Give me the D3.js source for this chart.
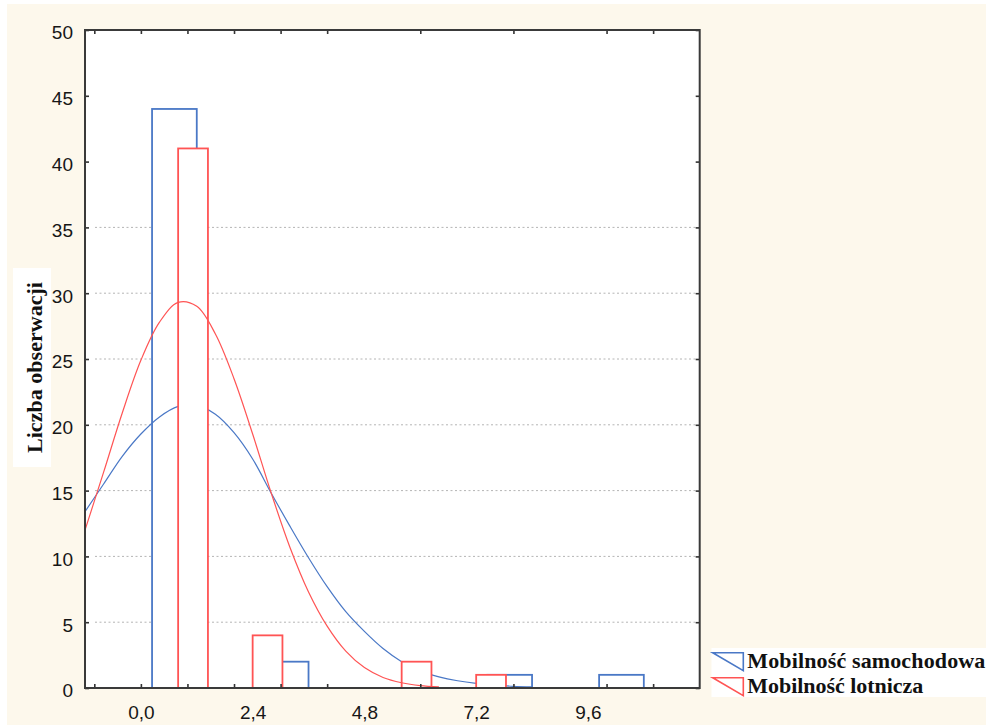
<!DOCTYPE html>
<html>
<head>
<meta charset="utf-8">
<script src="https://cdn.jsdelivr.net/npm/d3@7"></script>
<style>
  body { margin: 0; background: #ffffff; }
  svg { display: block; }
</style>
</head>
<body>
<div id="chart"></div>
<script>
// histogram bins (bin centres) and counts
const blueCenters = [0.72, 3.12, 7.92, 10.32];
const blueCounts = [44, 2, 1, 1];
const redCenters = [1.12, 2.72, 5.92, 7.52];
const redCounts = [41, 4, 2, 1];

// fitted curves at these x positions
const curveX = [-1.2, -0.8, -0.4, 0, 0.4, 0.8, 1.2, 1.6, 2.0, 2.4, 2.8, 3.2, 3.6, 4.0, 4.4, 4.8, 5.2, 5.6, 6.0, 6.4, 6.8, 7.2, 7.6, 8.0, 8.4];
const blueCurveY = [13.4, 15.5, 17.6, 19.3, 20.6, 21.4, 21.5, 20.8, 19.4, 17.4, 14.8, 12.3, 9.9, 7.7, 5.8, 4.3, 3.0, 2.0, 1.3, 0.85, 0.55, 0.35, 0.22, 0.13, 0.08];
const redCurveY = [12.0, 16.4, 20.9, 24.9, 27.8, 29.3, 29.0, 26.9, 23.5, 19.3, 14.8, 10.7, 7.3, 4.7, 2.8, 1.55, 0.8, 0.4, 0.18, 0.08];

const yTicks = [0, 5, 10, 15, 20, 25, 30, 35, 40, 45, 50];
const gridValues = [5, 10, 15, 20, 25, 30, 35];
const xTickMarks = [-1, 0, 1, 2, 3, 4, 6, 8, 10, 11];
const xTickLabels = [0, 2.4, 4.8, 7.2, 9.6];
const seriesNames = ["Mobilność samochodowa", "Mobilność lotnicza"];
const yTitle = "Liczba obserwacji";

const blueColor = "#4a78c6";
const redColor = "#ff5454";
const blueBarWidth = 0.96, redBarWidth = 0.64;

const W = 986, H = 725;
const pL = 85, pR = 699.7, pT = 30, pB = 688;

const svg = d3.select("#chart").append("svg")
  .attr("width", W).attr("height", H);

svg.append("rect").attr("x", 7).attr("y", 4)
  .attr("width", W - 7).attr("height", H - 4).attr("fill", "#fdf8ec");

const x = d3.scaleLinear().domain([-1.2, 12]).range([pL, pR]);
const y = d3.scaleLinear().domain([0, 50]).range([pB, pT]);

svg.append("defs").append("clipPath").attr("id", "plotclip")
  .append("rect").attr("x", pL).attr("y", pT)
  .attr("width", pR - pL).attr("height", pB - pT);

svg.append("rect").attr("x", pL).attr("y", pT)
  .attr("width", pR - pL).attr("height", pB - pT)
  .attr("fill", "#ffffff");

// grid
svg.append("g").selectAll("line").data(gridValues).enter().append("line")
  .attr("x1", pL + 10).attr("x2", pR - 4)
  .attr("y1", d => y(d)).attr("y2", d => y(d))
  .attr("stroke", "#b4b4b4").attr("stroke-width", 1)
  .attr("stroke-dasharray", "2,2.5");

const plot = svg.append("g").attr("clip-path", "url(#plotclip)");

const line = d3.line().x(d => x(d[0])).y(d => y(d[1])).curve(d3.curveCatmullRom.alpha(0.5));

// blue bars, blue curve, red bars, red curve
plot.append("g").selectAll("rect")
  .data(d3.zip(blueCenters, blueCounts)).enter().append("rect")
  .attr("x", d => x(d[0] - blueBarWidth / 2))
  .attr("width", x(blueBarWidth) - x(0))
  .attr("y", d => y(d[1]))
  .attr("height", d => y(0) - y(d[1]))
  .attr("fill", "#ffffff").attr("stroke", blueColor).attr("stroke-width", 1.8);

plot.append("path").datum(d3.zip(curveX, blueCurveY))
  .attr("d", line).attr("fill", "none")
  .attr("stroke", blueColor).attr("stroke-width", 1.2);

plot.append("g").selectAll("rect")
  .data(d3.zip(redCenters, redCounts)).enter().append("rect")
  .attr("x", d => x(d[0] - redBarWidth / 2))
  .attr("width", x(redBarWidth) - x(0))
  .attr("y", d => y(d[1]))
  .attr("height", d => y(0) - y(d[1]))
  .attr("fill", "#ffffff").attr("stroke", redColor).attr("stroke-width", 1.8);

plot.append("path").datum(d3.zip(curveX, redCurveY))
  .attr("d", line).attr("fill", "none")
  .attr("stroke", redColor).attr("stroke-width", 1.2);

// axes: inward tick marks on all sides
const tickColor = "#333333";
function styleTicks(g) {
  g.select(".domain").remove();
  g.selectAll(".tick line").attr("stroke", tickColor).attr("stroke-width", 1.6);
}
svg.append("g").attr("transform", `translate(0,${pB})`)
  .call(d3.axisBottom(x).tickValues(xTickMarks).tickSize(-4).tickFormat(""))
  .call(styleTicks);
svg.append("g").attr("transform", `translate(0,${pT})`)
  .call(d3.axisTop(x).tickValues(xTickMarks).tickSize(-4).tickFormat(""))
  .call(styleTicks);
svg.append("g").attr("transform", `translate(${pL},0)`)
  .call(d3.axisLeft(y).tickValues(yTicks).tickSize(-4).tickFormat(""))
  .call(styleTicks);
svg.append("g").attr("transform", `translate(${pR},0)`)
  .call(d3.axisRight(y).tickValues(yTicks).tickSize(-4).tickFormat(""))
  .call(styleTicks);

// tick labels
const labelFont = "'Liberation Sans', Arial, sans-serif";
const xLab = svg.append("g").attr("transform", `translate(0,${pB})`)
  .call(d3.axisBottom(x).tickValues(xTickLabels).tickSize(0).tickPadding(17.5)
    .tickFormat(d => d3.format(".1f")(d).replace(".", ",")));
xLab.select(".domain").remove();
xLab.selectAll("text").attr("font-family", labelFont).attr("font-size", 19).attr("fill", "#161616");

const yLab = svg.append("g").attr("transform", `translate(${pL},0)`)
  .call(d3.axisLeft(y).tickValues(yTicks).tickSize(0).tickPadding(12));
yLab.select(".domain").remove();
yLab.selectAll("text").attr("font-family", labelFont).attr("font-size", 19)
  .attr("dy", "0.47em").attr("fill", "#161616");

// frame
svg.append("rect").attr("x", pL).attr("y", pT)
  .attr("width", pR - pL).attr("height", pB - pT)
  .attr("fill", "none").attr("stroke", "#3a3a3a").attr("stroke-width", 2);

// y title
const serif = "'Liberation Serif', 'Times New Roman', serif";
svg.append("rect").attr("x", 13).attr("y", 268).attr("width", 38).attr("height", 199)
  .attr("fill", "#ffffff");
svg.append("text")
  .attr("transform", "translate(41.5,367.5) rotate(-90)")
  .attr("text-anchor", "middle")
  .attr("font-family", serif).attr("font-weight", "bold").attr("font-size", 22)
  .attr("fill", "#111111")
  .attr("textLength", 171).attr("lengthAdjust", "spacing")
  .text(yTitle);

// legend
svg.append("rect").attr("x", 711.5).attr("y", 648).attr("width", W - 711.5).attr("height", 49)
  .attr("fill", "#ffffff");
const legendColors = [blueColor, redColor];
const legendLengths = [238, 176];
const lg = svg.append("g").selectAll("g").data(seriesNames).enter().append("g")
  .attr("transform", (d, i) => `translate(0,${i * 25})`);
lg.append("path")
  .attr("d", "M712.7,652.7H743.3V670.7Z")
  .attr("fill", "none")
  .attr("stroke", (d, i) => legendColors[i]).attr("stroke-width", 1.6);
lg.append("text")
  .attr("x", 747.3).attr("y", 668.3)
  .attr("font-family", serif).attr("font-weight", "bold").attr("font-size", 22)
  .attr("fill", "#111111")
  .attr("textLength", (d, i) => legendLengths[i]).attr("lengthAdjust", "spacing")
  .text(d => d);
</script>
</body>
</html>
